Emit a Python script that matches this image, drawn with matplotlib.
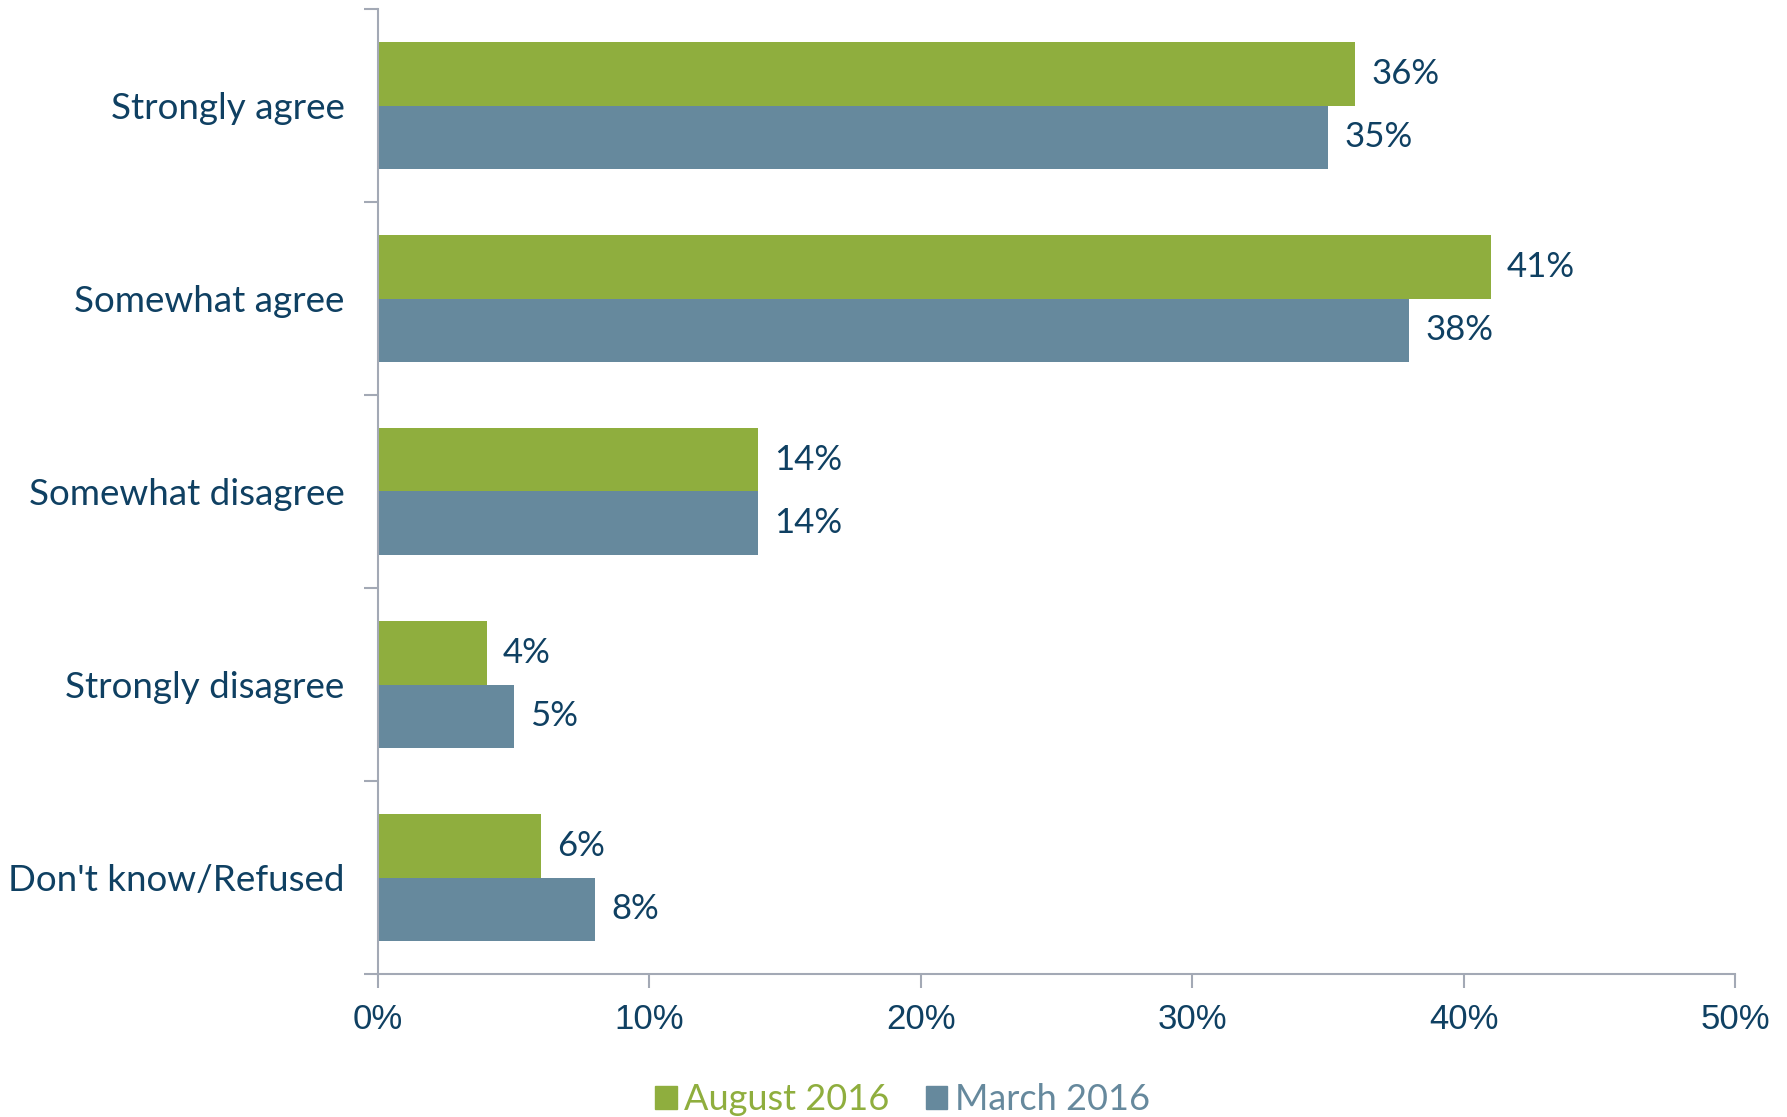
import matplotlib.pyplot as plt
import numpy as np
from matplotlib.patches import Patch

# survey responses, top to bottom
categories = ["Strongly agree", "Somewhat agree", "Somewhat disagree",
              "Strongly disagree", "Don't know/Refused"]
august_2016 = [36, 41, 14, 4, 6]
march_2016 = [35, 38, 14, 5, 8]
xticks = [0, 10, 20, 30, 40, 50]

GREEN = "#8fae3e"
BLUE = "#66899d"
TEXT = "#0f4062"
AXIS = "#a3a9b5"

plt.rcParams['font.family'] = ['Lato', 'DejaVu Sans']

fig = plt.figure(figsize=(17.87, 11.17), dpi=100)
ax = fig.add_axes([378 / 1787, 1 - 974 / 1117, (1735 - 378) / 1787, (974 - 9) / 1117])

n = len(categories)
y = np.arange(n)[::-1] + 0.5
h = 0.33
ax.barh(y + h / 2, august_2016, height=h, color=GREEN, label="August 2016")
ax.barh(y - h / 2, march_2016, height=h, color=BLUE, label="March 2016")

for yi, a, m in zip(y, august_2016, march_2016):
    ax.text(a + 0.6, yi + h / 2, f"{a}%", va="center", ha="left",
            fontsize=25, color=TEXT)
    ax.text(m + 0.6, yi - h / 2, f"{m}%", va="center", ha="left",
            fontsize=25, color=TEXT)

ax.set_xlim(0, 50)
ax.set_ylim(0, n)
ax.set_xticks(xticks)
ax.set_xticklabels([f"{t}%" for t in xticks], fontsize=25, color=TEXT,
                   family=['Liberation Sans', 'DejaVu Sans'])

# category separators on the left axis, labels centred between them
ax.set_yticks(np.arange(n + 1))
ax.set_yticklabels([])
ax.set_yticks(y, minor=True)
ax.set_yticklabels(categories, minor=True, fontsize=26.5, color=TEXT)
ax.tick_params(axis="y", which="minor", length=0, pad=24)
ax.tick_params(axis="y", which="major", length=10, color=AXIS, width=1.5)
ax.tick_params(axis="x", length=10, color=AXIS, width=1.5, pad=11)

for s in ["top", "right"]:
    ax.spines[s].set_visible(False)
for s in ["left", "bottom"]:
    ax.spines[s].set_color(AXIS)
    ax.spines[s].set_linewidth(1.5)

handles = [Patch(color=GREEN, label="August 2016"), Patch(color=BLUE, label="March 2016")]
leg = fig.legend(handles=handles, loc="lower center", bbox_to_anchor=(0.505, -0.028),
                 ncol=2, frameon=False, fontsize=26, handlelength=0.6, handleheight=0.6,
                 handletextpad=0.2, columnspacing=1.0)
for t, c in zip(leg.get_texts(), [GREEN, BLUE]):
    t.set_color(c)

fig.savefig("out.png", dpi=100)
